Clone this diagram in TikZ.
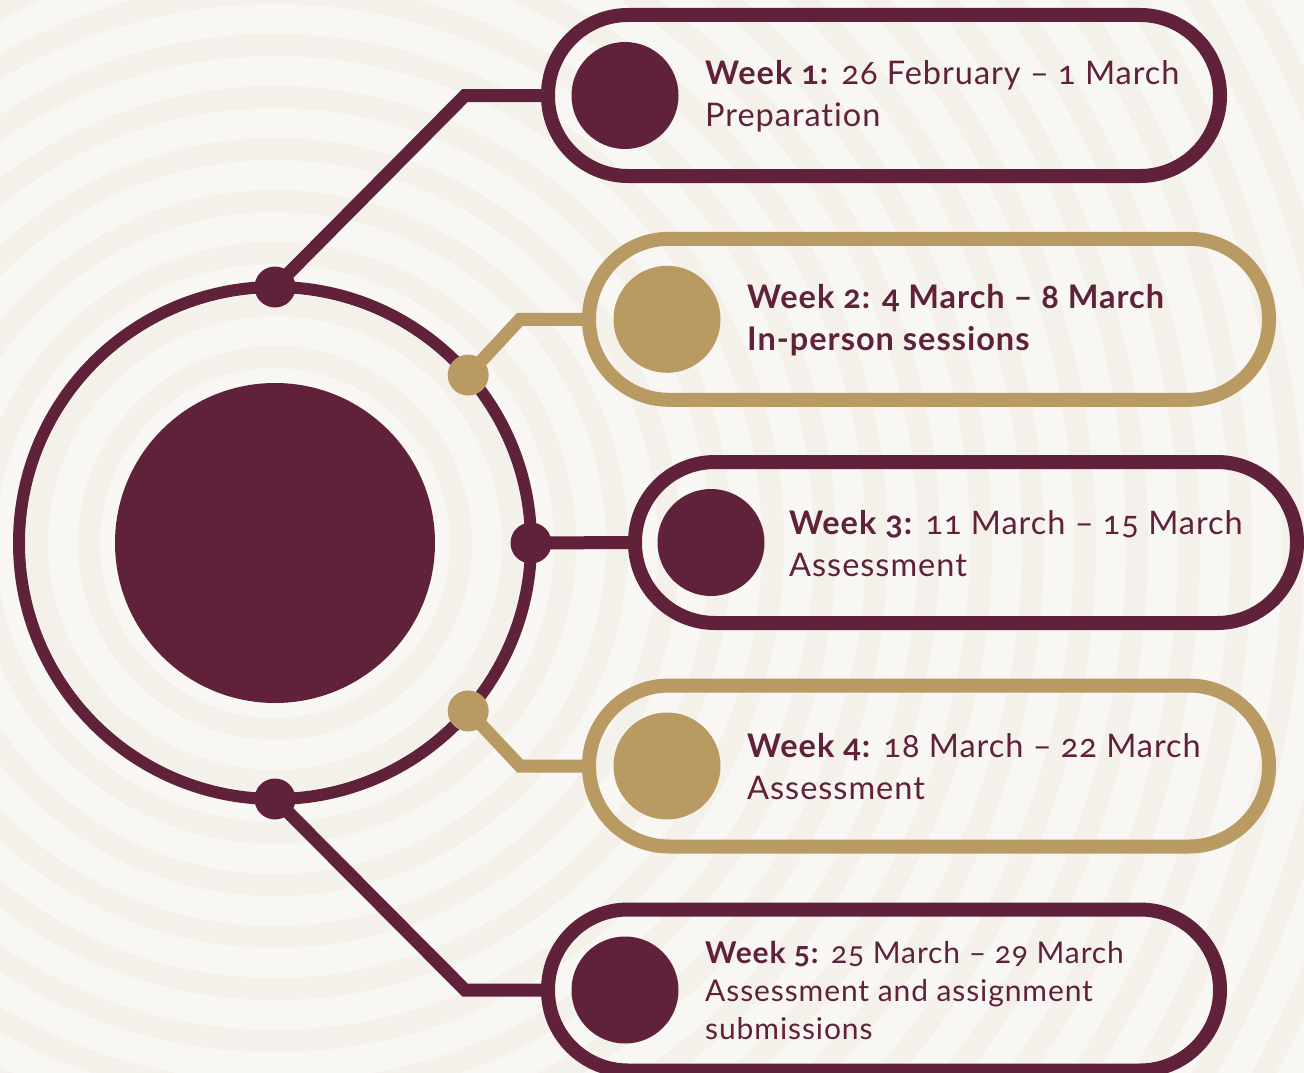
\documentclass[tikz,border=0pt]{standalone}
\usepackage{fontspec}
\setmainfont{Lato}[Numbers=OldStyle, LetterSpace=3, Ligatures={TeX,NoCommon}]
\definecolor{maroon}{HTML}{60213B}
\definecolor{gold}{HTML}{B89A62}
\definecolor{bgbase}{HTML}{F8F7F3}
\definecolor{bgband}{HTML}{F4F1EB}
\begin{document}
\begin{tikzpicture}[x=1pt,y=-1pt,
  conn/.style={line width=13pt, line join=miter},
  pill/.style={draw, line width=14pt, rounded corners=80pt, minimum width=#1, minimum height=161pt, inner sep=0pt, outer sep=0pt},
  ringdot/.style={circle, minimum size=41pt, inner sep=0pt, outer sep=0pt},
  bigdot/.style={circle, minimum size=107pt, inner sep=0pt, outer sep=0pt},
  txt/.style={text=maroon, align=left, inner sep=0pt, anchor=west, font=\fontsize{32.5}{42}\selectfont},
  txtbold/.style={txt, font=\fontsize{32.5}{42}\selectfont\bfseries},
  txtsmall/.style={txt, font=\fontsize{30}{38}\selectfont}]
\useasboundingbox (0,0) rectangle (1304,1073);
% background
\fill[bgbase] (0,0) rectangle (1304,1073);
\begin{scope}
  \clip (0,0) rectangle (1304,1073);
  \foreach \r in {30,82,...,1500} {
    \draw[bgband, line width=22pt] (275,543) circle[radius=\r pt];
  }
\end{scope}
% ring and hub
\node[circle, draw=maroon, line width=12pt, minimum size=512pt, inner sep=0pt, outer sep=0pt] (ring) at (275,543) {};
\node[circle, fill=maroon, minimum size=320pt, inner sep=0pt] (hub) at (275,543) {};
% pills
\node[pill=672pt, draw=maroon] (p1) at (884,95.5) {};
\node[pill=680pt, draw=gold]   (p2) at (929,319.3) {};
\node[pill=662pt, draw=maroon] (p3) at (966,542.5) {};
\node[pill=680pt, draw=gold]   (p4) at (929,766) {};
\node[pill=672pt, draw=maroon] (p5) at (884,990) {};
% ring dots
\node[ringdot] (d1) at (ring.90) {};
\node[ringdot] (d2) at (ring.41.5) {};
\node[ringdot] (d3) at (ring.0) {};
\node[ringdot] (d4) at (ring.-41.5) {};
\node[ringdot] (d5) at (ring.-90) {};
% connectors
\draw[conn, maroon] (d1.center) -- ([xshift=-83pt]p1.west) -- (p1.west);
\draw[conn, gold]   (d2.center) -- ([xshift=-69pt]p2.west) -- (p2.west);
\draw[conn, maroon] (d3.center) -- (p3.west);
\draw[conn, gold]   (d4.center) -- ([xshift=-69pt]p4.west) -- (p4.west);
\draw[conn, maroon] (d5.center) -- ([xshift=-83pt]p5.west) -- (p5.west);
% ring dots on top
\fill[maroon] (d1) circle[radius=20.5pt];
\fill[gold]   (d2) circle[radius=20.5pt];
\fill[maroon] (d3) circle[radius=20.5pt];
\fill[gold]   (d4) circle[radius=20.5pt];
\fill[maroon] (d5) circle[radius=20.5pt];
% inner circles of pills
\node[bigdot, fill=maroon] (c1) at (625,95.5) {};
\node[bigdot, fill=gold]   (c2) at (667,319.3) {};
\node[bigdot, fill=maroon] (c3) at (711,542.5) {};
\node[bigdot, fill=gold]   (c4) at (667,766) {};
\node[bigdot, fill=maroon] (c5) at (625,990) {};
% texts
\node[txt] (t1) at (705,96.5) {\textbf{Week 1:} 26 February – 1 March\\Preparation};
\node[txtbold] (t2) at (747,320.3) {Week 2: 4 March – 8 March\\In-person sessions};
\node[txt] (t3) at (789,543.5) {\textbf{Week 3:} 11 March – 15 March\\Assessment};
\node[txt] (t4) at (747,767) {\textbf{Week 4:} 18 March – 22 March\\Assessment};
\node[txtsmall] (t5) at (705,990.5) {\textbf{Week 5:} 25 March – 29 March\\Assessment and assignment\\submissions};
\end{tikzpicture}
\end{document}
